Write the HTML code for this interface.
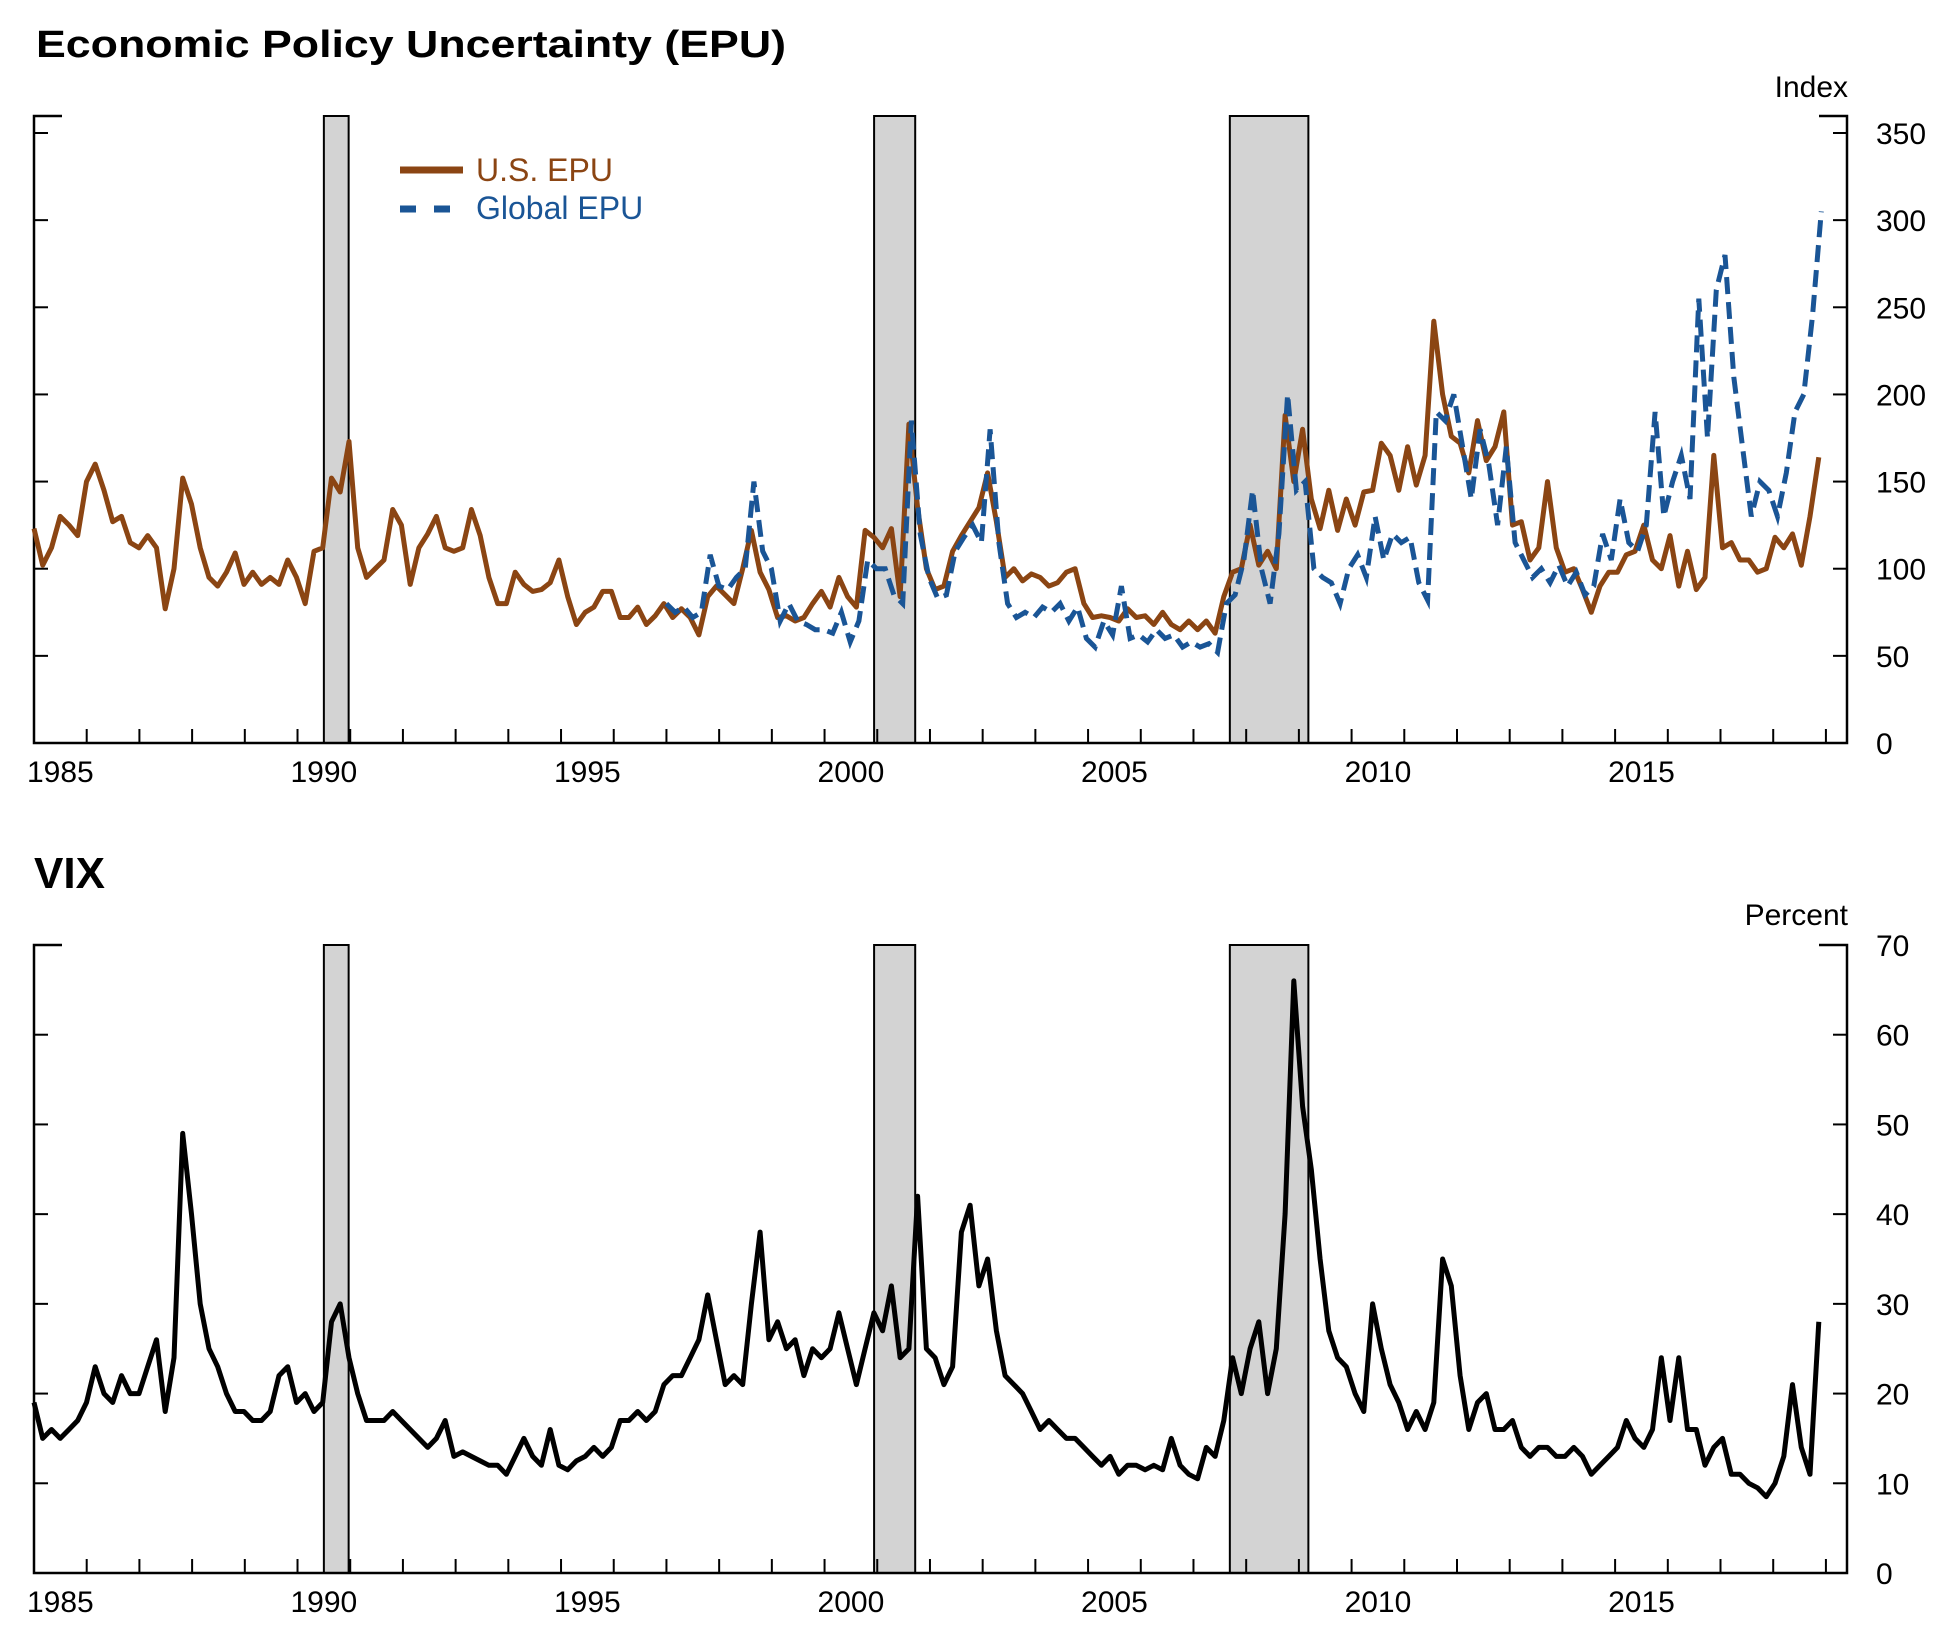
<!DOCTYPE html>
<html><head><meta charset="utf-8">
<style>
html,body{margin:0;padding:0;background:#fff;}
svg{display:block;font-family:"Liberation Sans",Arial,sans-serif;}
</style></head>
<body>
<svg id="chart" width="1944" height="1650" viewBox="0 0 1944 1650" xmlns="http://www.w3.org/2000/svg">
<text x="36" y="57" font-size="38" font-weight="bold" textLength="750" lengthAdjust="spacingAndGlyphs">Economic Policy Uncertainty (EPU)</text>
<text x="1848" y="97" font-size="30" text-anchor="end">Index</text>
<text x="34" y="888" font-size="44" font-weight="bold">VIX</text>
<text x="1848" y="925" font-size="30" text-anchor="end">Percent</text>
<g id="g1"></g>
<g id="g2"></g>
<g>
<line x1="400" y1="170" x2="463" y2="170" stroke="#8B4513" stroke-width="7"/>
<text x="476" y="181" font-size="32" fill="#8B4513">U.S. EPU</text>
<line x1="400" y1="209" x2="455" y2="209" stroke="#1a5596" stroke-width="7" stroke-dasharray="16,18"/>
<text x="476" y="219" font-size="32" fill="#1a5596">Global EPU</text>
</g>
</svg>
<script>
const startYear = 1985.0;
const stepYears = 0.166;
const usEPU = [123,102,112,130,125,119, 150,160,145,127,130,115, 112,119,112,77,100,152,
 137,112,95,90,98,109, 91,98,91,95,91,105, 95,80,110,112,152,144,
 173,112,95,100,105,134, 125,91,112,120,130,112, 110,112,134,119,95,80,
 80,98,91,87,88,92, 105,84,68,75,78,87, 87,72,72,78,68,73,
 80,72,77,72,62,84, 90,85,80,100,122,98, 88,72,73,70,72,80,
 87,78,95,84,78,122, 118,112,123,84,183,135, 100,88,90,110,119,127,
 135,155,127,95,100,93, 97,95,90,92,98,100, 80,72,73,72,70,77,
 72,73,68,75,68,65, 70,65,70,63,84,98, 100,125,102,110,100,188,
 150,180,140,123,145,122, 140,125,144,145,172,165, 145,170,148,165,242,200,
 176,172,155,185,162,170, 190,125,127,105,112,150, 112,98,100,88,75,90,
 98,98,108,110,125,105, 100,119,90,110,88,95, 165,112,115,105,105,98,
 100,118,112,120,102,130, 164];
const globalStartYear = 1997.0;
const globalEPU = [80,75,78,72,75,108, 90,88,95,100,150,110, 100,70,80,70,68,65,
 65,63,75,58,70,105, 100,100,85,80,185,120, 95,83,85,110,118,125,
 115,180,115,80,72,75, 72,78,75,80,70,78, 60,55,70,62,90,60,
 62,58,65,60,62,55, 58,55,57,52,80,85, 105,145,100,80,120,200,
 145,150,100,95,92,80, 100,108,95,130,105,120, 115,118,92,82,190,185,
 200,170,140,180,160,125, 170,115,105,95,100,92, 102,90,98,85,90,120,
 105,140,115,110,125,190, 130,150,165,140,255,175, 260,280,210,170,130,150,
 145,130,155,190,200,245, 305];
const vix = [19,15,16,15,16,17, 19,23,20,19,22,20, 20,23,26,18,24,49,
 40,30,25,23,20,18, 18,17,17,18,22,23, 19,20,18,19,28,30,
 24,20,17,17,17,18, 17,16,15,14,15,17, 13,13.5,13,12.5,12,12,
 11,13,15,13,12,16, 12,11.5,12.5,13,14,13, 14,17,17,18,17,18,
 21,22,22,24,26,31, 26,21,22,21,30,38, 26,28,25,26,22,25,
 24,25,29,25,21,25, 29,27,32,24,25,42, 25,24,21,23,38,41,
 32,35,27,22,21,20, 18,16,17,16,15,15, 14,13,12,13,11,12,
 12,11.5,12,11.5,15,12, 11,10.5,14,13,17,24, 20,25,28,20,25,40,
 66,52,45,35,27,24, 23,20,18,30,25,21, 19,16,18,16,19,35,
 32,22,16,19,20,16, 16,17,14,13,14,14, 13,13,14,13,11,12,
 13,14,17,15,14,16, 24,17,24,16,16,12, 14,15,11,11,10,9.5,
 8.5,10,13,21,14,11, 28];
const recessions = [[1990.5,1990.97],[2000.94,2001.72],[2007.69,2009.18]];
const epuTicks = [0,50,100,150,200,250,300,350];
const vixTicks = [0,10,20,30,40,50,60,70];
const yearLabels = [1985,1990,1995,2000,2005,2010,2015];

const NS = "http://www.w3.org/2000/svg";
const XL = 34, XR = 1847;
const xs = yr => XL + (yr - 1985) * ((XR - XL) / 34.4);
function mk(parent, tag, attrs){ const e=document.createElementNS(NS,tag); for(const k in attrs) e.setAttribute(k,attrs[k]); parent.appendChild(e); return e; }

function panel(g, top, bottom, ymaxTickY, yMax, ticks){
  const ys = v => bottom - (v / yMax) * (bottom - ymaxTickY);
  recessions.forEach(r => {
    const rc = mk(g,'rect',{x:xs(r[0]),y:top,width:xs(r[1])-xs(r[0]),height:bottom-top,fill:'#d3d3d3',stroke:'#000','stroke-width':2});
    
    
  });
  const fr = mk(g,'path',{d:`M${XL+28},${top} H${XL} V${bottom} H${XR} V${top} H${XR-28}`,fill:'none',stroke:'#000','stroke-width':2.5});
  
  
  for(let y=1986;y<=2019;y++){
    const t = mk(g,'line',{x1:xs(y),x2:xs(y),y1:bottom,y2:bottom-14,stroke:'#000','stroke-width':2});
    
    
  }
  yearLabels.forEach(y => {
    const t = mk(g,'text',{x:xs(y+0.5),y:bottom+39,'font-size':30,'text-anchor':'middle'});
    t.textContent = y;
    
    
  });
  ticks.forEach(v => {
    const yy = ys(v);
    if (v>0){
      const t = mk(g,'line',{x1:XR-14,x2:XR,y1:yy,y2:yy,stroke:'#000','stroke-width':2});
      
      
      const tl = mk(g,'line',{x1:XL,x2:XL+14,y1:yy,y2:yy,stroke:'#000','stroke-width':2});
      
      
    }
    const lb = mk(g,'text',{x:1876,y:yy+11,'font-size':30});
    lb.textContent = v;
    
    
  });
  return ys;
}
function linePath(vals, y0, ys){
  return vals.map((v,i)=>(i?'L':'M')+xs(y0+i*stepYears).toFixed(1)+','+ys(v).toFixed(1)).join(' ');
}
const g1 = document.getElementById('g1');
const ys1 = panel(g1, 116, 743, 133, 350, epuTicks);
const us = mk(g1,'path',{d:linePath(usEPU,startYear,ys1),fill:'none',stroke:'#8B4513','stroke-width':5,'stroke-linejoin':'round'});


const gl = mk(g1,'path',{d:linePath(globalEPU,globalStartYear,ys1),fill:'none',stroke:'#1a5596','stroke-width':5,'stroke-dasharray':'17,8'});



const g2 = document.getElementById('g2');
const ys2 = panel(g2, 945, 1573, 945, 70, vixTicks);
const vl = mk(g2,'path',{d:linePath(vix,startYear,ys2),fill:'none',stroke:'#000','stroke-width':5,'stroke-linejoin':'round'});


</script>
</body></html>
